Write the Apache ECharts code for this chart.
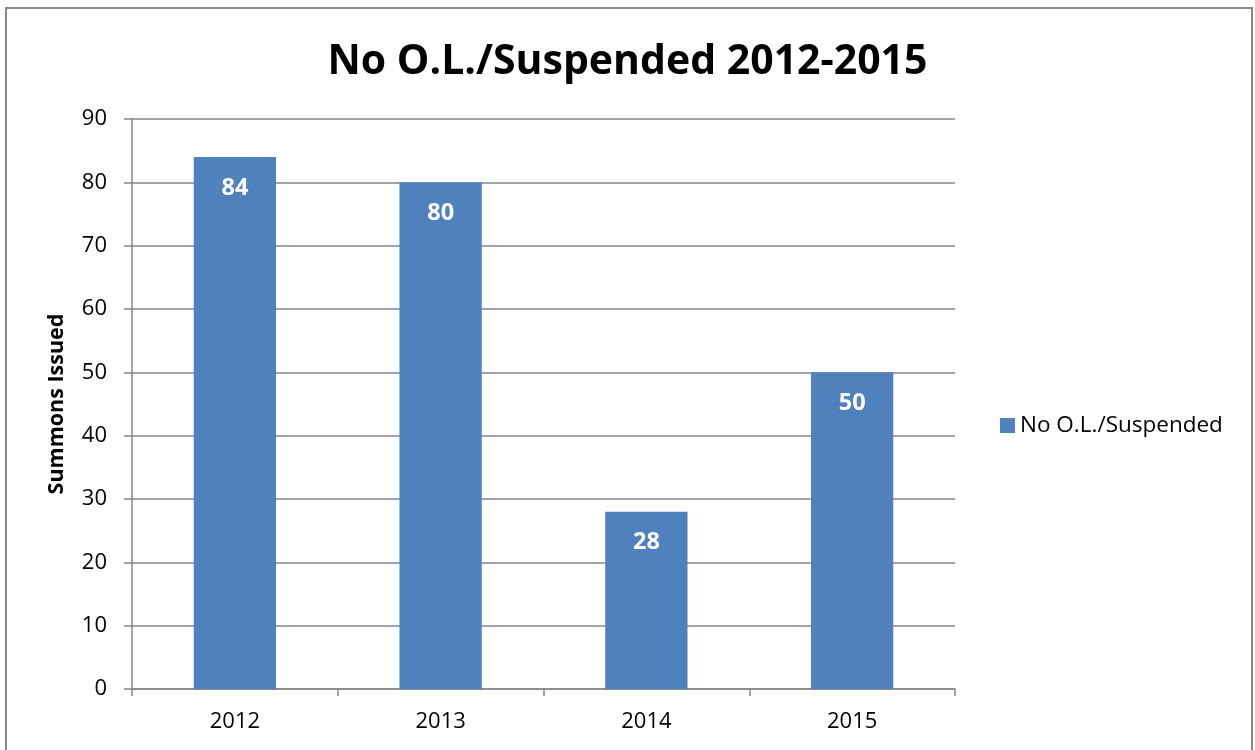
<!DOCTYPE html>
<html><head><meta charset="utf-8">
<script src="https://cdn.jsdelivr.net/npm/echarts@6/dist/echarts.min.js"></script>
<style>html,body{margin:0;padding:0;background:#fff}#c{width:1255px;height:750px}</style>
</head><body><div id="c"></div>
<script>
const categories = ['2012', '2013', '2014', '2015'];
const values = [84, 80, 28, 50];
const seriesName = 'No O.L./Suspended';
const titleText = 'No O.L./Suspended 2012-2015';
const yAxisName = 'Summons Issued';

const FONT = '"Open Sans", "Liberation Sans", sans-serif';
const chart = echarts.init(document.getElementById('c'));
chart.setOption({
  animation: false,
  textStyle: { fontFamily: FONT },
  graphic: [{
    type: 'rect', z: -1,
    shape: { x: 6, y: 8, width: 1246, height: 760 },
    style: { fill: 'none', stroke: '#878787', lineWidth: 2 }
  }],
  title: {
    text: titleText, left: 'center', top: 37,
    textStyle: { fontSize: 41, fontWeight: 'bold', color: '#000', fontFamily: FONT }
  },
  legend: {
    data: [seriesName], orient: 'vertical', left: 995, top: 409,
    icon: 'rect', itemWidth: 15, itemHeight: 15, itemGap: 6,
    textStyle: { fontSize: 22.5, color: '#000', fontFamily: FONT }
  },
  grid: { left: 132, right: 300, top: 119, bottom: 61, containLabel: false },
  xAxis: {
    type: 'category', data: categories,
    axisLine: { lineStyle: { color: '#868686', width: 1.5 } },
    axisTick: { show: true, length: 7, alignWithLabel: false, lineStyle: { color: '#868686', width: 1.5 } },
    axisLabel: { fontSize: 22, color: '#000', margin: 22, fontFamily: FONT }
  },
  yAxis: {
    type: 'value', min: 0, max: 90, interval: 10,
    name: yAxisName, nameLocation: 'middle', nameGap: 64, nameRotate: 90,
    nameTextStyle: { fontSize: 21.5, fontWeight: 'bold', color: '#000', fontFamily: FONT },
    axisLine: { show: true, lineStyle: { color: '#868686', width: 1.5 } },
    axisTick: { show: true, length: 8, lineStyle: { color: '#868686', width: 1.5 } },
    axisLabel: { fontSize: 22, color: '#000', margin: 25, fontFamily: FONT },
    splitLine: { show: true, lineStyle: { color: '#868686', width: 1.5 } }
  },
  series: [{
    name: seriesName, type: 'bar', data: values, barWidth: '40%',
    itemStyle: { color: '#4F81BD' },
    label: {
      show: true, position: 'insideTop', distance: 19,
      fontSize: 23.5, fontWeight: 'bold', color: '#fff', fontFamily: FONT
    }
  }]
});
</script></body></html>
